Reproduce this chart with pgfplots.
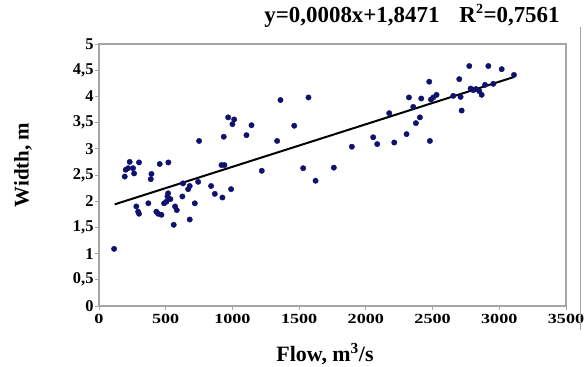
\documentclass[border=0pt]{standalone}
\usepackage{fontspec}
\setmainfont{Liberation Serif}
\newfontfamily\stretchfont{Liberation Serif}[FakeStretch=1.3]
\usepackage{pgfplots}
\pgfplotsset{compat=1.18}
\definecolor{navy}{RGB}{16,16,110}
\definecolor{framegray}{RGB}{165,165,165}
\pgfplotstableread{
x y
113 1.09
193 2.47
200 2.60
218 2.63
230 2.75
255 2.63
263 2.53
300 2.74
280 1.90
293 1.80
300 1.76
370 1.96
388 2.42
393 2.52
430 1.80
443 1.76
455 2.71
468 1.74
488 1.96
505 1.99
513 2.09
518 2.15
520 2.74
535 2.04
560 1.55
570 1.90
583 1.83
625 2.09
630 2.34
668 2.23
680 2.29
680 1.65
718 1.96
743 2.37
750 3.15
840 2.29
868 2.14
918 2.69
925 2.07
935 3.23
940 2.69
968 3.60
990 2.23
1000 3.47
1013 3.56
1105 3.26
1143 3.45
1220 2.58
1335 3.15
1360 3.93
1463 3.44
1530 2.63
1570 3.98
1623 2.39
1760 2.64
1895 3.04
2055 3.22
2085 3.09
2175 3.68
2213 3.12
2305 3.28
2323 3.98
2355 3.80
2375 3.49
2405 3.60
2415 3.96
2475 4.28
2480 3.15
2488 3.94
2505 3.98
2530 4.03
2655 4.01
2700 4.33
2710 3.99
2718 3.73
2775 4.58
2785 4.15
2805 4.12
2825 4.14
2850 4.10
2868 4.03
2893 4.22
2918 4.58
2955 4.24
3018 4.52
3110 4.41
}\flowdata
\begin{document}
\begin{tikzpicture}
\useasboundingbox (0bp,0bp) rectangle (585bp,367bp);
\begin{axis}[
  at={(99bp,61bp)}, anchor=south west,
  scale only axis, width=467bp, height=262bp,
  xmin=0, xmax=3500, ymin=0, ymax=5,
  xtick={0,500,1000,1500,2000,2500,3000,3500},
  ytick={0,0.5,1,1.5,2,2.5,3,3.5,4,4.5,5},
  axis line style={framegray, line width=1.3bp},
  tick style={framegray, line width=0.8bp},
  tick align=outside, major tick length=4bp,
  xtick pos=left, ytick pos=left,
  /pgf/number format/use comma,
  /pgf/number format/1000 sep={},
  /pgf/number format/assume math mode=true,
  xticklabel style={font=\fontsize{14}{15}\stretchfont\bfseries, yshift=-1bp},
  yticklabel style={font=\fontsize{16.5}{17}\selectfont\bfseries, xshift=2bp},
  clip=false,
]
\addplot[only marks, mark=*, mark size=2.7bp, mark options={fill=navy, draw=navy}] table[x=x, y=y] {\flowdata};
\addplot[black, line width=2bp] coordinates {(118,1.94) (3110,4.37)};
\end{axis}
\node[font=\fontsize{23}{23}\selectfont\bfseries] at (412bp,351bp) {y=0,0008x+1,8471\hspace{20bp}R\textsuperscript{\fontsize{14}{14}\selectfont 2}=0,7561};
\node[rotate=90, font=\fontsize{21}{21}\selectfont\bfseries] at (23bp,202bp) {Width, m};
\node[font=\fontsize{22}{22}\selectfont\bfseries] at (325bp,13bp) {Flow, m\textsuperscript{3}/s};
\draw[framegray, line width=1bp] (580bp,37bp) -- (580bp,340bp);
\end{tikzpicture}
\end{document}
